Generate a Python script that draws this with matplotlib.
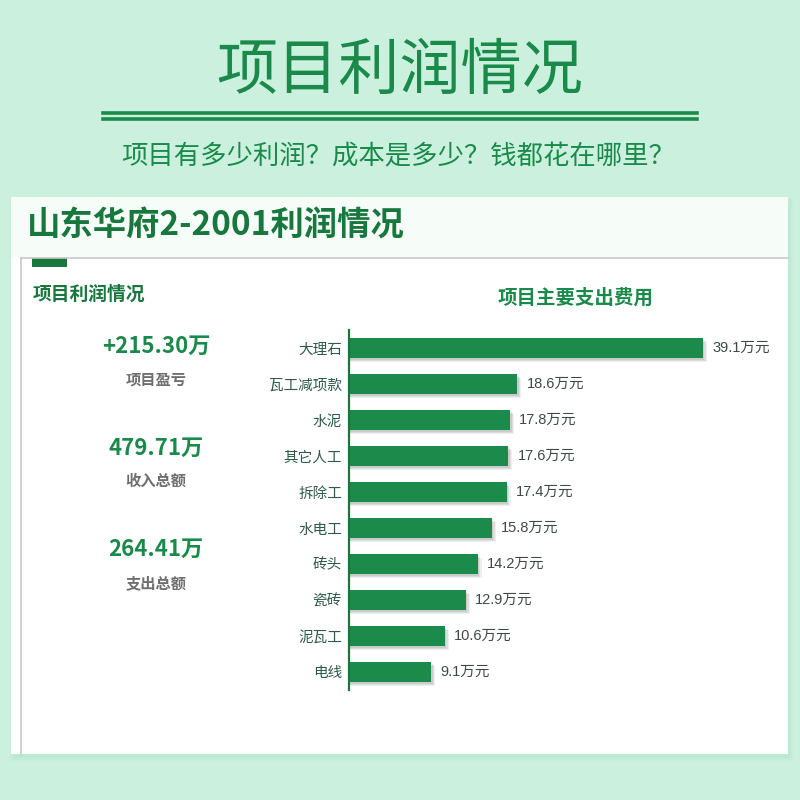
import matplotlib
matplotlib.use("Agg")
import matplotlib.pyplot as plt
from matplotlib.patches import Rectangle
from matplotlib.lines import Line2D

plt.rcParams['font.family'] = ['Noto Sans CJK SC', 'DejaVu Sans']

# ---- data ----
categories = ["大理石", "瓦工减项款", "水泥", "其它人工", "拆除工", "水电工", "砖头", "瓷砖", "泥瓦工", "电线"]
values = [39.1, 18.6, 17.8, 17.6, 17.4, 15.8, 14.2, 12.9, 10.6, 9.1]
kpi_values = ["+215.30万", "479.71万", "264.41万"]
kpi_labels = ["项目盈亏", "收入总额", "支出总额"]
main_title = "项目利润情况"
subtitle = "项目有多少利润？成本是多少？钱都花在哪里？"
card_title = "山东华府2-2001利润情况"
left_title = "项目利润情况"
chart_title = "项目主要支出费用"

BG = "#cbf1de"
GREEN = "#1a8a4a"
DARK_GREEN = "#17773d"
W, H = 800, 800

fig = plt.figure(figsize=(8, 8), dpi=100)
fig.patch.set_facecolor(BG)

def fx(px): return px / W
def fy(py): return 1 - py / H

def rect(x0, y0, x1, y1, **kw):
    fig.add_artist(Rectangle((fx(x0), fy(y1)), fx(x1) - fx(x0), fy(y0) - fy(y1),
                             transform=fig.transFigure, zorder=0.5, **kw))

# title
fig.text(fx(400), fy(72), main_title, ha='center', va='center', fontsize=44,
         color=GREEN, fontweight='normal')
for yy in (113, 119):
    fig.add_artist(Line2D([fx(103), fx(697)], [fy(yy), fy(yy)], transform=fig.transFigure,
                          color=GREEN, lw=2.6))
fig.text(fx(398), fy(157), subtitle, ha='center', va='center', fontsize=19, color=GREEN)

# card shadow
for i, a in enumerate([0.05, 0.07, 0.09]):
    d = 6 - 2 * i
    rect(11 - d + 4, 197 - d + 6, 788 + d, 754 + d + 2, facecolor="#7fcfa5", alpha=a, lw=0)
# card
rect(11, 197, 788, 754, facecolor="white", lw=0)
rect(11, 197, 788, 257, facecolor="#f6fdf9", lw=0)
fig.add_artist(Line2D([fx(21), fx(788)], [fy(257.5), fy(257.5)], transform=fig.transFigure,
                      color="#c8c8c8", lw=1.2, zorder=0.6))
fig.add_artist(Line2D([fx(21), fx(21)], [fy(257.5), fy(754)], transform=fig.transFigure,
                      color="#c8c8c8", lw=1.2, zorder=0.6))
rect(32, 258, 67, 267, facecolor=DARK_GREEN, lw=0)

fig.text(fx(27), fy(226), card_title, ha='left', va='center', fontsize=24,
         color=DARK_GREEN, fontweight='bold')
fig.text(fx(33), fy(294), left_title, ha='left', va='center', fontsize=13.5,
         color=DARK_GREEN, fontweight='bold')

kpi_y = [346, 448, 549]
lab_y = [380, 481, 583]
for v, l, yv, yl in zip(kpi_values, kpi_labels, kpi_y, lab_y):
    fig.text(fx(156), fy(yv), v, ha='center', va='center', fontsize=16,
             color=GREEN, fontweight='bold')
    fig.text(fx(156), fy(yl), l, ha='center', va='center', fontsize=11,
             color="#6e6e6e", fontweight='bold')

fig.text(fx(576), fy(298), chart_title, ha='center', va='center', fontsize=14,
         color=GREEN, fontweight='bold')

# bar chart
ax = fig.add_axes([fx(349), fy(690), fx(780) - fx(349), fy(330) - fy(690)])
ax.set_zorder(5)
ax.set_facecolor('none')
y = list(range(len(categories)))
xmax = (780 - 349) / ((703 - 349) / 39.1)
ax.set_xlim(0, xmax)
ax.set_ylim(len(categories) - 0.5, -0.5)
# soft shadows
for off, ext, al in [(0.12, 0.45, 0.06), (0.09, 0.3, 0.08), (0.06, 0.15, 0.08)]:
    ax.barh([yi + off for yi in y], [v + ext for v in values], height=0.56, color="#000000",
            alpha=al, lw=0, zorder=1)
ax.barh(y, values, height=0.56, color="#1b8a4b", lw=0, zorder=2)
for yi, v in zip(y, values):
    ax.text(v + 1.0, yi, f"{v}万元", ha='left', va='center', fontsize=10.5,
            color="#3d4a44", family=['Liberation Sans', 'Noto Sans CJK SC'])
ax.set_yticks(y)
ax.set_yticklabels(categories, fontsize=10.5, color="#2e5a47")
ax.tick_params(axis='y', length=0, pad=5)
ax.set_xticks([])
for s in ['top', 'right', 'bottom']:
    ax.spines[s].set_visible(False)
ax.spines['left'].set_color(DARK_GREEN)
ax.spines['left'].set_linewidth(1.6)

fig.savefig("out.png", dpi=100, facecolor=fig.get_facecolor())
